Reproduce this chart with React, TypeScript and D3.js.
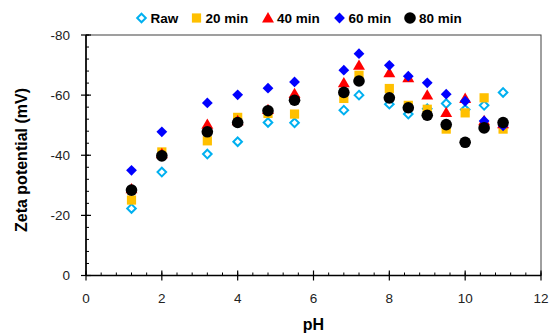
import React from "react";
import * as d3 from "d3";

const pH = [1.2, 2, 3.2, 4, 4.8, 5.5, 6.8, 7.2, 8, 8.5, 9, 9.5, 10, 10.5, 11];
const raw = [-22.3, -34.4, -40.4, -44.5, -50.9, -50.8, -55, -60, -57, -53.7, -55.5, -57.2, -55.2, -56.6, -60.9];
const min20 = [-25.1, -41.1, -44.8, -52.6, -53.9, -53.7, -58.9, -66.6, -62.2, -56.6, -55.3, -48.7, -54.1, -59.1, -48.7];
const min40 = [-28.8, -40.5, -50.3, -51.5, -55.2, -60.5, -64.1, -69.9, -67.4, -65.8, -60, -54.2, -58.9, -51.5, -50.5];
const min60 = [-35, -47.8, -57.4, -60.1, -62.3, -64.4, -68.3, -73.8, -69.9, -66.3, -64.1, -60.3, -58, -51.4, -49.8];
const min80 = [-28.4, -39.8, -47.8, -50.9, -54.8, -58.3, -60.9, -64.7, -59.1, -55.8, -53.3, -50.2, -44.3, -49.1, -50.9];

const seriesNames = ["Raw", "20 min", "40 min", "60 min", "80 min"];
const xTicks = [0, 2, 4, 6, 8, 10, 12];
const yTicks = [0, -20, -40, -60, -80];

const W = 550;
const H = 335;
const left = 86;
const right = 541;
const top = 35;
const bottom = 275.5;
const font = "'Liberation Sans', Arial, sans-serif";

const x = d3.scaleLinear().domain([0, 12]).range([left, right]);
const y = d3.scaleLinear().domain([0, -80]).range([bottom, top]);

type Kind = "raw" | "square" | "triangle" | "diamond" | "circle";
const kinds: Kind[] = ["raw", "square", "triangle", "diamond", "circle"];
const values = [raw, min20, min40, min60, min80];

const diamondPath = (s: number) => `M0,${-s}L${s},0L0,${s}L${-s},0Z`;
const trianglePath = d3.symbol().type(d3.symbolTriangle).size(62)() as string;

function Marker({ kind, cx, cy }: { kind: Kind; cx: number; cy: number }) {
  const t = `translate(${cx},${cy})`;
  switch (kind) {
    case "raw":
      return <path d={diamondPath(4.3)} transform={t} fill="white" stroke="#00B0F0" strokeWidth={2} />;
    case "square":
      return <rect x={cx - 4.6} y={cy - 4.6} width={9.2} height={9.2} fill="#FFC000" />;
    case "triangle":
      return <path d={trianglePath} transform={`translate(${cx},${cy + 1})`} fill="#FF0000" />;
    case "diamond":
      return <path d={diamondPath(5.4)} transform={t} fill="#0000FF" />;
    default:
      return <circle cx={cx} cy={cy} r={5.8} fill="#000000" />;
  }
}

export default function App() {
  const xMinor = d3.range(0, 12.001, 0.4);
  const yMinor = d3.range(0, -80.001, -4);
  const legendX = [141.5, 196.5, 268, 339.5, 410];
  return (
    <svg width={W} height={H} style={{ position: "absolute", left: 0, top: 0, background: "white" }}>
      {/* frame */}
      <rect x={left} y={top} width={right - left} height={bottom - top} fill="none" stroke="#404040" strokeWidth={1} />
      {/* axes */}
      <line x1={left} x2={right} y1={bottom} y2={bottom} stroke="black" strokeWidth={1.6} />
      <line x1={left} x2={left} y1={top} y2={bottom} stroke="black" strokeWidth={1.6} />
      {xMinor.map((v, i) => (
        <line key={"xm" + i} x1={x(v)} x2={x(v)} y1={bottom} y2={bottom - 3} stroke="black" strokeWidth={1} />
      ))}
      {yMinor.map((v, i) => (
        <line key={"ym" + i} x1={left} x2={left + 3} y1={y(v)} y2={y(v)} stroke="black" strokeWidth={1} />
      ))}
      {xTicks.map((v) => (
        <g key={"xt" + v}>
          <line x1={x(v)} x2={x(v)} y1={bottom - 5} y2={bottom + 5} stroke="black" strokeWidth={1.2} />
          <text x={x(v)} y={bottom + 27} textAnchor="middle" fontFamily={font} fontSize={13.5} fill="#222">
            {v}
          </text>
        </g>
      ))}
      {yTicks.map((v) => (
        <g key={"yt" + v}>
          <line x1={left - 5} x2={left + 5} y1={y(v)} y2={y(v)} stroke="black" strokeWidth={1.2} />
          <text x={left - 16} y={y(v)} dy="0.35em" textAnchor="end" fontFamily={font} fontSize={13.5} fill="#222">
            {v}
          </text>
        </g>
      ))}
      <text x={(left + right) / 2} y={330} textAnchor="middle" fontFamily={font} fontSize={16} fontWeight="bold">
        pH
      </text>
      <text
        transform="translate(21,160) rotate(-90)"
        textAnchor="middle"
        dy="0.35em"
        fontFamily={font}
        fontSize={16}
        fontWeight="bold"
      >
        Zeta potential (mV)
      </text>
      {/* data */}
      {values.map((vals, si) => (
        <g key={"s" + si}>
          {vals.map((v, i) => (
            <Marker key={i} kind={kinds[si]} cx={x(pH[i])} cy={y(v)} />
          ))}
        </g>
      ))}
      {/* legend */}
      {seriesNames.map((name, i) => (
        <g key={"lg" + i}>
          <Marker kind={kinds[i]} cx={legendX[i]} cy={18} />
          <text x={legendX[i] + 9} y={18} dy="0.35em" fontFamily={font} fontSize={13.5} fontWeight="bold">
            {name}
          </text>
        </g>
      ))}
    </svg>
  );
}
